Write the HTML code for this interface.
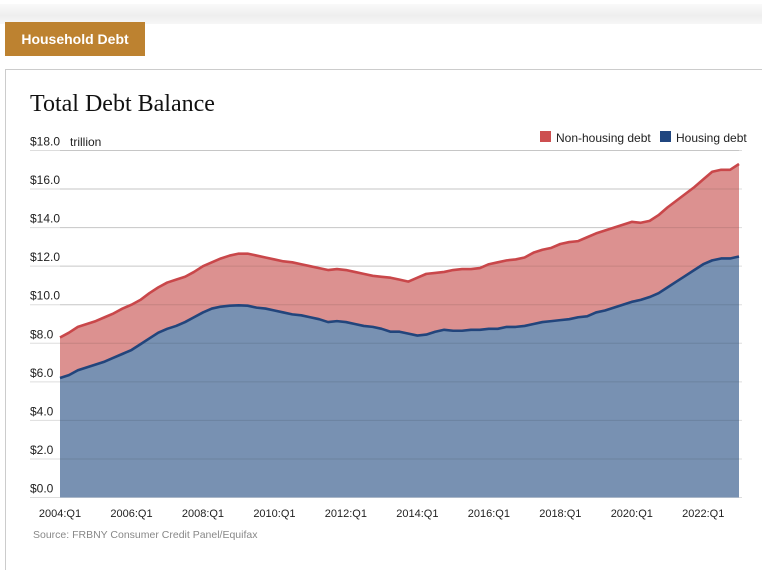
<!DOCTYPE html>
<html><head><meta charset="utf-8">
<style>
html,body{margin:0;padding:0;background:#fff;width:762px;height:545px;overflow:hidden;font-family:"Liberation Sans",Arial,sans-serif;}
#topbar{position:absolute;left:0;top:4px;width:762px;height:20px;background:linear-gradient(#fafafa,#eee 60%,#f6f6f6);}
#tab{position:absolute;left:5px;top:22px;width:140px;height:34px;background:#bd8230;color:#fff;font-weight:bold;font-size:14px;line-height:34px;text-align:center;}
#panel{position:absolute;left:5px;top:69px;width:780px;height:500px;border-top:1px solid #ccc;border-left:1px solid #ccc;}
svg{position:absolute;left:0;top:0;}
</style></head><body>
<div id="topbar"></div>
<div id="tab">Household Debt</div>
<div id="panel"></div>
<svg id="chart" width="762" height="545">
<text x="30" y="111" font-family="'Liberation Serif',Georgia,serif" font-size="24" fill="#111">Total Debt Balance</text>
<text x="70" y="146" font-size="12" fill="#222">trillion</text>
<g>
<rect x="540" y="131" width="11" height="11" fill="#cd4f50"/>
<text x="556" y="142" font-size="12" fill="#222">Non-housing debt</text>
<rect x="660" y="131" width="11" height="11" fill="#20467f"/>
<text x="676" y="142" font-size="12" fill="#222">Housing debt</text>
</g>
<g id="grid"></g><g id="areas"></g><g id="overgrid"></g><g id="xlabels"></g>
<text x="33" y="538" font-size="10.5" fill="#888">Source: FRBNY Consumer Credit Panel/Equifax</text>
</svg>
<script>
const yTicks=[0,2,4,6,8,10,12,14,16,18];
const yTickLabels=["$0.0","$2.0","$4.0","$6.0","$8.0","$10.0","$12.0","$14.0","$16.0","$18.0"];
const xTickLabels=["2004:Q1","2006:Q1","2008:Q1","2010:Q1","2012:Q1","2014:Q1","2016:Q1","2018:Q1","2020:Q1","2022:Q1"];
const xTickIndex=[0,8,16,24,32,40,48,56,64,72];
const total=[8.3,8.55,8.85,9.0,9.15,9.35,9.55,9.8,10.0,10.25,10.6,10.9,11.15,11.3,11.45,11.7,12.0,12.2,12.4,12.55,12.65,12.65,12.55,12.45,12.35,12.25,12.2,12.1,12.0,11.9,11.8,11.85,11.8,11.7,11.6,11.5,11.45,11.4,11.3,11.2,11.4,11.6,11.65,11.7,11.8,11.85,11.85,11.9,12.1,12.2,12.3,12.35,12.45,12.7,12.85,12.95,13.15,13.25,13.3,13.5,13.7,13.85,14.0,14.15,14.3,14.25,14.35,14.65,15.05,15.4,15.75,16.1,16.5,16.9,17.0,17.0,17.3];
const housing=[6.2,6.35,6.6,6.75,6.9,7.05,7.25,7.45,7.65,7.95,8.25,8.55,8.75,8.9,9.1,9.35,9.6,9.8,9.9,9.95,9.97,9.95,9.85,9.8,9.7,9.6,9.5,9.45,9.35,9.25,9.1,9.15,9.1,9.0,8.9,8.85,8.75,8.6,8.6,8.5,8.4,8.45,8.6,8.7,8.65,8.65,8.7,8.7,8.75,8.75,8.85,8.85,8.9,9.0,9.1,9.15,9.2,9.25,9.35,9.4,9.6,9.7,9.85,10.0,10.15,10.25,10.4,10.6,10.9,11.2,11.5,11.8,12.1,12.3,12.4,12.4,12.5];

const NS="http://www.w3.org/2000/svg";
const x0=60,x1=739,yBase=497.5,yTop=150.5,yMax=18;
function xs(i){return x0+(x1-x0)*i/(total.length-1);}
function ys(v){return yBase-(yBase-yTop)*v/yMax;}
function mk(tag,attrs,parent){const e=document.createElementNS(NS,tag);for(const k in attrs)e.setAttribute(k,attrs[k]);parent.appendChild(e);return e;}
const grid=document.getElementById('grid');
const og=document.getElementById('overgrid');
yTicks.forEach((t,i)=>{
  const l=mk('line',{x1:30,x2:742,y1:ys(t),y2:ys(t),stroke:'#ddd','stroke-width':1},grid);
  
  
  if(t>0) mk('line',{x1:x0,x2:x1,y1:ys(t),y2:ys(t),stroke:'#000','stroke-opacity':0.1,'stroke-width':1},og);
  const tx=mk('text',{x:30,y:ys(t)-5,'font-size':12,fill:'#222'},grid);
  tx.textContent=yTickLabels[i];
  
  
});
const areas=document.getElementById('areas');
function linePts(arr){return arr.map((v,i)=>xs(i).toFixed(2)+','+ys(v).toFixed(2));}
const tp=linePts(total),hp=linePts(housing);
const nonArea=mk('polygon',{points:tp.join(' ')+' '+hp.slice().reverse().join(' '),fill:'#dc9190'},areas);


const hArea=mk('polygon',{points:hp.join(' ')+' '+xs(housing.length-1)+','+yBase+' '+x0+','+yBase,fill:'#7891b2'},areas);


const og2=document.getElementById('overgrid');
const tl=mk('polyline',{points:tp.join(' '),fill:'none',stroke:'#c9474a','stroke-width':2.6,'stroke-linejoin':'round'},og2);


const hl=mk('polyline',{points:hp.join(' '),fill:'none',stroke:'#22457c','stroke-width':2.6,'stroke-linejoin':'round'},og2);


const xl=document.getElementById('xlabels');
xTickLabels.forEach((s,i)=>{
  const t=mk('text',{x:xs(xTickIndex[i]),y:517,'font-size':11,fill:'#222','text-anchor':'middle'},xl);
  t.textContent=s;
  
  
});
</script>
</body></html>
